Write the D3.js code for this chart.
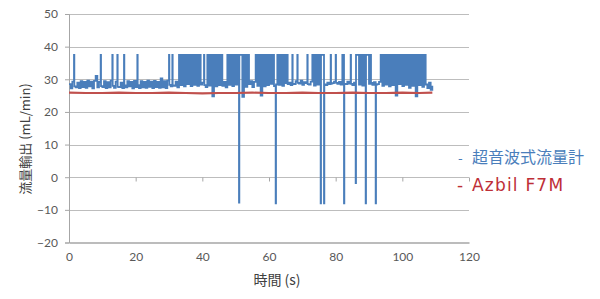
<!DOCTYPE html>
<html>
<head>
<meta charset="utf-8">
<script src="https://cdn.jsdelivr.net/npm/d3@7"></script>
<style>
  html, body { margin: 0; padding: 0; background: #fff; }
  svg { display: block; }
  .tick text { font-family: Lato, "Noto Sans", sans-serif; font-size: 12px; fill: #595959; }
</style>
</head>
<body>
<div id="chart"></div>
<script>
// ultrasonic flow meter: sample times (s) and readings (mL/min), held until the next sample
const ultrasonicTime = [
  0, 0.5, 1, 1.5, 1.6, 2, 2.5, 3, 3.5, 4, 4.5,
  5, 5.5, 6, 6.5, 7, 7.5, 8, 8.5, 9, 9.5, 9.6,
  10, 10.5, 11, 11.5, 12, 12.5, 13, 13.1, 13.5, 14, 14.5, 14.6,
  15, 15.5, 16, 16.5, 16.6, 17, 17.5, 18, 18.5, 19, 19.5,
  20, 20.5, 20.6, 21, 21.5, 22, 22.5, 23, 23.5, 24, 24.5,
  25, 25.5, 26, 26.5, 27, 27.5, 28, 28.5, 29, 29.5,
  30, 30.1, 30.5, 31, 31.1, 31.5, 32, 32.5, 33, 33.5, 34, 34.5,
  35, 35.5, 36, 36.5, 37, 37.5, 38, 38.5, 39, 39.5,
  40, 40.5, 40.6, 41, 41.5, 42, 42.5, 43, 43.5, 44, 44.5,
  45, 45.5, 46, 46.5, 47, 47.5, 48, 48.5, 49, 49.5,
  50, 50.5, 51, 51.1, 51.5, 52, 52.5, 53, 53.5, 54, 54.5,
  55, 55.5, 56, 56.5, 57, 57.5, 58, 58.5, 59, 59.5,
  60, 60.5, 61, 61.5, 62, 62.1, 62.5, 63, 63.5, 64, 64.5,
  65, 65.5, 65.6, 66, 66.5, 67, 67.1, 67.5, 68, 68.5, 68.6, 69, 69.5,
  70, 70.5, 71, 71.5, 71.6, 72, 72.5, 73, 73.5, 74, 74.5,
  75, 75.5, 75.6, 76, 76.5, 76.6, 77, 77.5, 78, 78.5, 78.6, 79, 79.5,
  80, 80.1, 80.5, 81, 81.5, 82, 82.5, 82.6, 83, 83.5, 84, 84.5, 84.6,
  85, 85.5, 86, 86.1, 86.5, 87, 87.5, 88, 88.5, 89, 89.1, 89.5,
  90, 90.5, 90.6, 91, 91.5, 92, 92.1, 92.5, 93, 93.5, 94, 94.5,
  95, 95.5, 96, 96.5, 97, 97.5, 98, 98.5, 99, 99.5,
  100, 100.5, 101, 101.5, 102, 102.5, 103, 103.5, 104, 104.5,
  105, 105.5, 106, 106.5, 107, 107.5, 108, 108.5, 109
];
const ultrasonicFlow = [
  28.5, 27.2, 29.3, 37.5, 27.8, 27.5, 29.0, 27.3, 29.4, 27.6, 29.2,
  27.4, 29.6, 27.8, 29.3, 27.2, 29.5, 31.0, 27.5, 29.2, 37.5, 27.9,
  27.6, 29.4, 27.3, 29.1, 27.5, 29.6, 37.5, 28.0, 27.4, 29.3, 37.5, 27.7,
  27.6, 29.0, 27.3, 37.5, 28.1, 27.5, 29.4, 27.8, 29.2, 27.2, 29.5,
  27.6, 37.5, 28.2, 27.3, 29.4, 27.5, 29.2, 27.4, 29.6, 27.7, 29.3,
  27.3, 29.5, 27.6, 29.2, 27.4, 30.3, 27.5, 29.4, 27.3, 29.6,
  37.5, 28.3, 27.8, 37.5, 28.1, 28.0, 29.3, 27.5, 37.5, 28.2, 37.5, 27.8,
  37.5, 28.5, 37.5, 27.9, 37.5, 28.3, 37.5, 28.0, 37.5, 28.4,
  29.0, 37.5, 28.2, 27.6, 37.5, 28.1, 37.5, 24.8, 37.5, 27.8, 37.5,
  28.2, 37.5, 28.0, 29.2, 27.5, 37.5, 28.3, 37.5, 27.9, 37.5,
  28.4, 37.5, -7.8, 37.5, 37.5, 24.6, 37.5, 27.7, 37.5, 28.5, 29.4,
  27.6, 29.2, 37.5, 28.0, 37.5, 25.0, 37.5, 27.8, 37.5, 28.2,
  37.5, 28.6, 37.5, 27.9, -8.0, 28.4, 37.5, 28.3, 37.5, 28.0, 37.5,
  28.8, 37.5, 28.5, 29.0, 28.2, 37.5, 28.6, 28.5, 29.4, 37.5, 28.9, 28.7, 29.6,
  28.3, 29.1, 28.8, 37.5, 28.5, 28.4, 29.3, 37.5, 28.1, 37.5, 28.4,
  37.5, -8.0, 37.5, 37.5, -8.0, 28.4, 28.2, 29.0, 28.5, 37.5, 28.7, 28.8, 29.3,
  37.5, 28.9, 28.6, 29.2, 28.4, 37.5, -8.0, 28.6, 28.5, 29.3, 28.7, 37.5, 28.6,
  28.2, 29.0, -1.8, 37.5, 37.5, 28.4, 37.5, 28.1, 37.5, -8.0, 37.5, 37.5,
  28.6, 37.5, 28.9, 28.3, 29.1, -8.0, 28.4, 28.5, 29.2, 37.5, 28.0, 37.5,
  28.4, 37.5, 27.8, 37.5, 28.2, 37.5, 25.0, 37.5, 28.5, 37.5,
  27.9, 37.5, 28.3, 37.5, 27.4, 37.5, 28.0, 37.5, 24.8, 37.5,
  28.2, 37.5, 27.7, 37.5, 28.4, 27.3, 29.0, 26.8, 28.0
];

// Azbil F7M reference meter
const azbilTime = [0, 5, 10, 15, 20, 25, 30, 35, 40, 45, 50, 55, 60, 65, 70, 75, 80, 85, 90, 95, 100, 105, 109];
const azbilFlow = [25.9, 25.8, 25.8, 25.9, 25.8, 25.8, 25.9, 25.8, 25.7, 25.8, 25.8, 25.9, 25.8, 25.8, 25.9, 25.8, 25.8, 25.9, 25.8, 25.8, 25.9, 25.8, 25.9];

const xTicks = [0, 20, 40, 60, 80, 100, 120];
const yTicks = [-20, -10, 0, 10, 20, 30, 40, 50];

const seriesNames = ['超音波式流量計', 'Azbil F7M'];
const colors = ['#4a7ebb', '#be2f37'];

const width = 600, height = 299;
const svg = d3.select('#chart').append('svg')
  .attr('width', width)
  .attr('height', height);

const x = d3.scaleLinear().domain([0, 120]).range([69, 469]);
const y = d3.scaleLinear().domain([-20, 50]).range([242.5, 14]);

// gridlines
svg.append('g')
  .selectAll('line')
  .data(yTicks.filter(d => d > -20))
  .join('line')
  .attr('x1', x(0)).attr('x2', x(120))
  .attr('y1', d => Math.round(y(d)) + 0.5)
  .attr('y2', d => Math.round(y(d)) + 0.5)
  .attr('stroke', '#bdbdbd')
  .attr('stroke-width', 1);

// y axis
const yAxis = svg.append('g')
  .attr('transform', `translate(${x(0)},0)`)
  .call(d3.axisLeft(y).tickValues(yTicks).tickSize(4).tickPadding(7));
yAxis.select('.domain').attr('stroke', '#a6a6a6');
yAxis.selectAll('.tick line').attr('stroke', '#a6a6a6');

// x axis tick marks sit on the zero line
const xMarks = svg.append('g')
  .attr('transform', `translate(0,${Math.round(y(0)) + 0.5})`)
  .call(d3.axisBottom(x).tickValues(xTicks).tickSize(4).tickFormat(''));
xMarks.select('.domain').remove();
xMarks.selectAll('.tick line').attr('stroke', '#a6a6a6');

// x labels at the bottom
const xAxis = svg.append('g')
  .attr('transform', `translate(0,${y(-20)})`)
  .call(d3.axisBottom(x).tickValues(xTicks).tickSize(0).tickPadding(10));
xAxis.select('.domain').attr('stroke', '#a6a6a6').attr('stroke-width', 1.5);

// series: sample-and-hold
const line = d3.line()
  .curve(d3.curveStepAfter)
  .x(d => x(d[0]))
  .y(d => y(d[1]));

svg.append('path')
  .datum(ultrasonicTime.map((t, i) => [t, ultrasonicFlow[i]]))
  .attr('d', line)
  .attr('fill', 'none')
  .attr('stroke', colors[0])
  .attr('stroke-width', 1.8);

svg.append('path')
  .datum(azbilTime.map((t, i) => [t, azbilFlow[i]]))
  .attr('d', d3.line().x(d => x(d[0])).y(d => y(d[1])))
  .attr('fill', 'none')
  .attr('stroke', '#c0504d')
  .attr('stroke-width', 2.2);

// axis titles
svg.append('text')
  .attr('x', 277)
  .attr('y', 285)
  .attr('text-anchor', 'middle')
  .attr('font-family', '"Noto Sans CJK JP", sans-serif')
  .attr('font-size', 14)
  .attr('fill', '#404040')
  .text('時間 (s)');

svg.append('text')
  .attr('transform', 'translate(30,139) rotate(-90)')
  .attr('text-anchor', 'middle')
  .attr('font-family', '"Noto Sans CJK JP", sans-serif')
  .attr('font-size', 13)
  .attr('fill', '#404040')
  .text('流量輸出 (mL/min)');

// legend: dash marker then name
const legendY = [163, 191];
const legend = svg.append('g');
legend.selectAll('text.dash')
  .data(seriesNames)
  .join('text')
  .attr('class', 'dash')
  .attr('x', (d, i) => i === 0 ? 458 : 457)
  .attr('y', (d, i) => legendY[i])
  .attr('font-family', '"DejaVu Sans", sans-serif')
  .attr('font-size', (d, i) => i === 0 ? 13 : 17)
  .attr('fill', (d, i) => colors[i])
  .text('-');
legend.selectAll('text.name')
  .data(seriesNames)
  .join('text')
  .attr('class', 'name')
  .attr('x', 472)
  .attr('y', (d, i) => legendY[i])
  .attr('font-family', (d, i) => i === 0 ? '"Noto Sans CJK JP", sans-serif' : '"DejaVu Sans", sans-serif')
  .attr('font-size', (d, i) => i === 0 ? 16 : 17)
  .attr('letter-spacing', (d, i) => i === 0 ? 0 : 1.2)
  .attr('fill', (d, i) => colors[i])
  .text(d => d);
</script>
</body>
</html>
